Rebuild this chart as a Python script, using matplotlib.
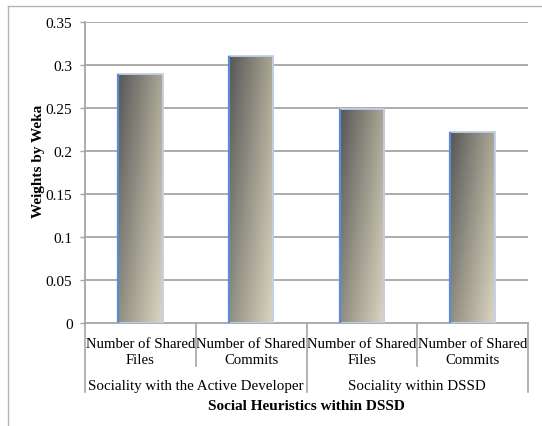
import numpy as np
import matplotlib
matplotlib.use("Agg")
import matplotlib.pyplot as plt
from matplotlib.lines import Line2D
from matplotlib.colors import to_rgb
import matplotlib.transforms as mtransforms

# Data
categories = ["Number of Shared\nFiles", "Number of Shared\nCommits",
              "Number of Shared\nFiles", "Number of Shared\nCommits"]
groups = ["Sociality with the Active Developer", "Sociality within DSSD"]
weights = [0.29, 0.31, 0.249, 0.222]
yticks = [0, 0.05, 0.1, 0.15, 0.2, 0.25, 0.3, 0.35]
ytick_labels = ["0", "0.05", "0.1", "0.15", "0.2", "0.25", "0.3", "0.35"]
ylabel = "Weights by Weka"
xlabel = "Social Heuristics within DSSD"

plt.rcParams["font.family"] = ["Liberation Serif", "DejaVu Serif"]
FS = 11

W, H = 542, 427
fig = plt.figure(figsize=(W / 100, H / 100), dpi=100)
L, R, B, T = 85 / W, 528 / W, 1 - 324 / H, 1 - 23 / H
ax = fig.add_axes([L, B, R - L, T - B])

grid_c = "#a6a6a6"
x = np.arange(len(weights))
ax.set_xlim(-0.5, len(weights) - 0.5)
ax.set_ylim(0, 0.35)

# horizontal gridlines
for yv in yticks[1:]:
    ax.axhline(yv, color=grid_c, lw=1.3, zorder=1)

bars = ax.bar(x, weights, width=0.4, color="none", edgecolor="#c2cfea",
              linewidth=1.3, zorder=3)

# diagonal grey-to-beige gradient fill clipped to each bar
tl, tr = np.array(to_rgb("#565656")), np.array(to_rgb("#aba895"))
bl, br = np.array(to_rgb("#908e82")), np.array(to_rgb("#dcd6c1"))
ny, nx = 100, 60
u = np.linspace(0, 1, nx)[None, :, None]
v = np.linspace(0, 1, ny)[:, None, None]  # 0 = top row
grad = (1 - v) * ((1 - u) * tl + u * tr) + v * ((1 - u) * bl + u * br)
for p in bars.patches:
    x0, w, h = p.get_x(), p.get_width(), p.get_height()
    im = ax.imshow(grad, extent=[x0, x0 + w, 0, h], aspect="auto",
                   origin="upper", zorder=2, interpolation="bilinear")
    im.set_clip_path(p)
    ax.plot([x0, x0], [0, h], color="#5b8bd2", lw=1.6, zorder=4,
            solid_capstyle="butt")

# axes styling
for s in ["top", "right"]:
    ax.spines[s].set_visible(False)
for s in ["left", "bottom"]:
    ax.spines[s].set_color(grid_c)
    ax.spines[s].set_linewidth(1.3)
ax.set_yticks(yticks)
ax.set_yticklabels(ytick_labels, fontsize=FS)
ax.tick_params(axis="y", length=3.5, width=1.0, color=grid_c, pad=5.5)
ax.set_xticks(x)
ax.set_xticklabels(categories, fontsize=10.6, linespacing=1.3)
ax.tick_params(axis="x", length=0, pad=10)
ax.set_ylabel(ylabel, fontsize=FS, fontweight="bold")
ax.yaxis.set_label_coords(-0.09, 0.54)

# multi-level category separators (axes coordinates below the plot)
trans = mtransforms.blended_transform_factory(ax.transData, ax.transAxes)
ax_h = 301.0
def ya(py):
    return -(py - 324) / ax_h

for xb in [-0.5, 1.5, 3.5]:
    ax.add_line(Line2D([xb, xb], [ya(324), ya(393)], transform=trans,
                       color=grid_c, lw=1.2, clip_on=False))
for xb in [0.5, 2.5]:
    ax.add_line(Line2D([xb, xb], [ya(324), ya(367)], transform=trans,
                       color=grid_c, lw=1.2, clip_on=False))

for gi, g in enumerate(groups):
    ax.text(0.5 + 2 * gi, ya(387), g, transform=trans, ha="center",
            va="center", fontsize=10.8)

fig.text(306 / W, 1 - 407 / H, xlabel, ha="center", va="center",
         fontsize=FS, fontweight="bold")

# outer frame
fig.add_artist(Line2D([8 / W, 8 / W], [0, 1 - 7 / H], color="#b4b4b4",
                      lw=1.0, transform=fig.transFigure))
fig.add_artist(Line2D([8 / W, 1], [1 - 7 / H, 1 - 7 / H], color="#b4b4b4",
                      lw=1.0, transform=fig.transFigure))

fig.savefig("out.png", dpi=100)
